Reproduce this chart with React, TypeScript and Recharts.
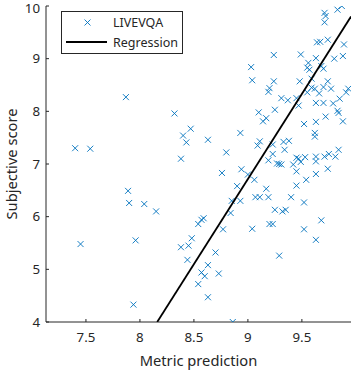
import { ScatterChart, Scatter, XAxis, YAxis, Legend, Label } from "recharts";

// LIVEVQA: metric prediction vs subjective score
const metricPrediction = [
  7.40, 7.45, 7.54, 7.87, 7.89, 7.90, 7.94, 7.96, 8.04, 8.15,
  8.32, 8.38, 8.38, 8.40, 8.43, 8.44, 8.45, 8.47, 8.48, 8.54,
  8.54, 8.57, 8.57, 8.59, 8.60, 8.63, 8.63, 8.63, 8.70, 8.73,
  8.76, 8.77, 8.80, 8.84, 8.85, 8.86, 8.90, 8.93, 8.93, 8.94,
  9.00, 9.03, 9.04, 9.04, 9.06, 9.07, 9.09, 9.10, 9.11, 9.11,
  9.14, 9.17, 9.17, 9.19, 9.19, 9.20, 9.19, 9.20, 9.23, 9.23,
  9.23, 9.24, 9.24, 9.25, 9.25, 9.27, 9.29, 9.31, 9.29, 9.31,
  9.32, 9.33, 9.34, 9.35, 9.37, 9.38, 9.40, 9.42, 9.45, 9.45,
  9.45, 9.45, 9.47, 9.47, 9.48, 9.49, 9.49, 9.52, 9.52, 9.52,
  9.53, 9.54, 9.55, 9.55, 9.56, 9.57, 9.59, 9.59, 9.62, 9.62,
  9.62, 9.63, 9.63, 9.63, 9.63, 9.63, 9.63, 9.63, 9.64, 9.66,
  9.67, 9.68, 9.68, 9.70, 9.70, 9.70, 9.71, 9.71, 9.71, 9.72,
  9.72, 9.74, 9.74, 9.74, 9.75, 9.77, 9.79, 9.80, 9.81, 9.83,
  9.83, 9.84, 9.84, 9.85, 9.87, 9.88, 9.88, 9.89, 9.91, 9.93,
];

const subjectiveScore = [
  7.30, 5.48, 7.29, 8.27, 6.49, 6.26, 4.33, 5.55, 6.24, 6.10,
  7.96, 7.10, 5.42, 7.54, 7.41, 5.18, 5.45, 7.67, 5.59, 5.86,
  4.72, 5.94, 4.94, 5.97, 4.87, 7.46, 5.08, 4.47, 5.32, 4.92,
  6.83, 5.76, 7.22, 6.07, 6.30, 4.00, 6.58, 7.59, 6.30, 6.90,
  6.80, 8.84, 8.59, 5.77, 6.70, 6.37, 7.35, 7.98, 6.37, 7.43,
  7.81, 7.87, 6.53, 6.37, 8.37, 8.44, 7.07, 5.86, 5.86, 7.19,
  7.37, 8.57, 9.07, 8.03, 6.13, 7.01, 7.00, 6.99, 5.26, 8.25,
  6.10, 7.42, 7.27, 6.13, 8.21, 7.44, 6.37, 6.99, 7.12, 6.86,
  6.59, 8.25, 8.11, 7.10, 8.57, 9.08, 7.04, 7.76, 6.27, 5.76,
  7.13, 6.70, 8.83, 8.36, 8.92, 8.79, 8.62, 8.45, 8.43, 7.59,
  7.52, 7.80, 7.14, 7.05, 6.81, 5.56, 9.01, 8.16, 9.31, 8.34,
  9.32, 5.93, 8.86, 8.81, 8.16, 8.46, 9.87, 9.69, 7.14, 7.90,
  9.81, 9.36, 8.57, 6.91, 7.19, 8.43, 8.15, 9.00, 7.14, 9.93,
  8.01, 7.97, 7.27, 8.24, 10.00, 7.81, 9.05, 9.27, 8.36, 8.43,
];

// regression line end points
const regressionX = [8.16, 9.955];
const regressionY = [4.0, 9.8];

const xTicks = [7.5, 8, 8.5, 9, 9.5];
const yTicks = [4, 5, 6, 7, 8, 9, 10];
const xDomain = [7.13, 9.955];
const yDomain = [4, 10];

const points = metricPrediction.map((x, i) => ({ x, y: subjectiveScore[i] }));
const regression = regressionX.map((x, i) => ({ x, y: regressionY[i] }));

const BLUE = "#0072BD";
const AXIS = "#262626";
const FONT = "'Noto Sans', sans-serif";

const Cross = (props: any) => {
  const { cx, cy } = props;
  if (cx == null || cy == null) return <g />;
  const s = 3;
  return (
    <path
      d={`M${cx - s},${cy - s}L${cx + s},${cy + s}M${cx - s},${cy + s}L${cx + s},${cy - s}`}
      stroke={BLUE}
      strokeWidth={0.9}
      fill="none"
    />
  );
};

const LegendBox = () => (
  <svg width={123} height={44} style={{ display: "block" }}>
    <rect x={0.5} y={0.5} width={121} height={42} fill="#fff" stroke={AXIS} strokeWidth={1} />
    <path d="M23.5,8.5L29.5,14.5M23.5,14.5L29.5,8.5" stroke={BLUE} strokeWidth={0.9} />
    <text x={52} y={11.5} dominantBaseline="central" fontSize={12.5} fill={AXIS} fontFamily={FONT}>
      LIVEVQA
    </text>
    <line x1={5} x2={46} y1={31} y2={31} stroke="#000" strokeWidth={1.8} />
    <text x={52} y={31} dominantBaseline="central" fontSize={12.5} fill={AXIS} fontFamily={FONT}>
      Regression
    </text>
  </svg>
);

const YLabel = (props: any) => {
  const vb = props.viewBox || { x: 0, y: 0, width: 0, height: 0 };
  const cy = vb.y + vb.height / 2;
  return (
    <text
      x={11}
      y={cy}
      transform={`rotate(-90, 11, ${cy})`}
      textAnchor="middle"
      dominantBaseline="central"
      fontSize={14.7}
      fill={AXIS}
      fontFamily={FONT}
    >
      Subjective score
    </text>
  );
};

export default function App() {
  const tickStyle = { fontSize: 13.3, fill: AXIS, fontFamily: FONT };
  return (
    <div style={{ position: "absolute", left: 0, top: 0, background: "#fff" }}>
      <ScatterChart width={354} height={371} margin={{ top: 6, right: 3, bottom: 0, left: 0 }}>
        <XAxis
          type="number"
          dataKey="x"
          domain={xDomain}
          ticks={xTicks}
          allowDataOverflow
          height={49}
          tickSize={-3}
          tickMargin={14}
          tick={tickStyle}
          stroke={AXIS}
          tickFormatter={(v: number) => String(v)}
        >
          <Label
            value="Metric prediction"
            position="insideBottom"
            offset={5}
            style={{ fontSize: 14.7, fill: AXIS, fontFamily: FONT }}
          />
        </XAxis>
        <XAxis
          xAxisId="top"
          orientation="top"
          type="number"
          dataKey="x"
          domain={xDomain}
          ticks={xTicks}
          allowDataOverflow
          height={0}
          tickSize={-3}
          tick={false}
          stroke={AXIS}
        />
        <YAxis
          type="number"
          dataKey="y"
          domain={yDomain}
          ticks={yTicks}
          allowDataOverflow
          width={46}
          tickSize={-3}
          tickMargin={9}
          tick={tickStyle}
          stroke={AXIS}
          label={<YLabel />}
        />
        <YAxis
          yAxisId="right"
          orientation="right"
          type="number"
          dataKey="y"
          domain={yDomain}
          ticks={yTicks}
          allowDataOverflow
          width={0}
          tickSize={-3}
          tick={false}
          stroke={AXIS}
        />
        <Legend
          layout="horizontal"
          verticalAlign="middle"
          align="center"
          content={() => <LegendBox />}
          wrapperStyle={{ left: 61, top: 11, width: 123, height: 44 }}
        />
        <Scatter
          name="LIVEVQA"
          data={points}
          shape={<Cross />}
          isAnimationActive={false}
        />
        <Scatter
          name="Regression"
          data={regression}
          line={{ stroke: "#000", strokeWidth: 1.8 }}
          shape={() => <g />}
          isAnimationActive={false}
        />
      </ScatterChart>
    </div>
  );
}
